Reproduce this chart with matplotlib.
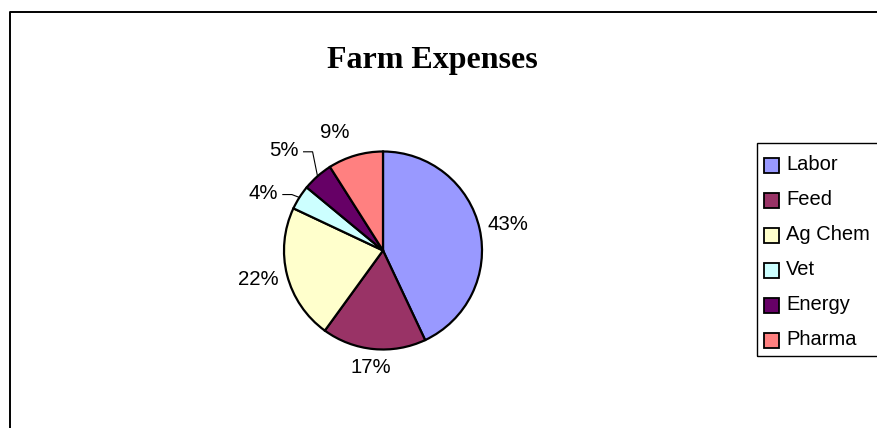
import numpy as np
import matplotlib.pyplot as plt
from matplotlib.patches import Rectangle

# Farm expense breakdown, percent of total
categories = ['Labor', 'Feed', 'Ag Chem', 'Vet', 'Energy', 'Pharma']
shares = [43, 17, 22, 4, 5, 9]
colors = ['#9999FF', '#993366', '#FFFFCC', '#CCFFFF', '#660066', '#FF8080']
labels = [f'{v}%' for v in shares]

W, H = 877, 428
fig = plt.figure(figsize=(W / 100, H / 100), dpi=100)
ax = fig.add_axes([0, 0, 1, 1])

# pie in pixel-like units (1 data unit = 1 px)
cx, cy, R = 383, H - 250.5, 99
wedges, _ = ax.pie(shares, colors=colors, startangle=90, counterclock=False,
                   center=(cx, cy), radius=R,
                   wedgeprops=dict(edgecolor='black', linewidth=1.6))
ax.set_xlim(0, W)
ax.set_ylim(0, H)
ax.set_aspect('equal')
ax.axis('off')

# outer chart border (only left and top edges show)
ax.plot([9.5, 9.5, W + 5], [-5, H - 12, H - 12], color='black', lw=1.4)

ax.text(432, H - 68, 'Farm Expenses', fontsize=23, fontweight='bold',
        family='Liberation Serif', ha='center', va='baseline')

# percentage labels; the thin slices get leader lines
fig.canvas.draw()
renderer = fig.canvas.get_renderer()
moved = {'Vet': (1.343, 6.8), 'Energy': (1.424, 3.3), 'Pharma': (1.29, 6.0)}
with_leader = ('Vet', 'Energy')
for w, lab, cat in zip(wedges, labels, categories):
    mid = np.deg2rad((w.theta1 + w.theta2) / 2)
    t = ax.text(0, 0, lab, fontsize=14.7, family='Liberation Sans',
                ha='center', va='center')
    bb = t.get_window_extent(renderer)
    if cat in moved:
        d, shift = moved[cat]
        a = mid + np.deg2rad(shift)
        x, y = cx + d * R * np.cos(a), cy + d * R * np.sin(a)
        t.set_position((x, y))
        if cat in with_leader:
            px, py = cx + R * np.cos(mid), cy + R * np.sin(mid)
            xr = x + bb.width / 2
            ax.plot([xr + 5, xr + 14, px], [y - 1.5, y - 1.5, py],
                    color='black', lw=0.8)
    else:
        gap = R + 9
        x = cx + gap * np.cos(mid) + bb.width / 2 * np.cos(mid)
        y = cy + gap * np.sin(mid) + bb.height / 2 * np.sin(mid)
        t.set_position((x, y))

# legend box, drawn by hand
lx, ltop, lbot = 757, 143, 356
ax.add_patch(Rectangle((lx, H - lbot), 200, lbot - ltop, fill=False,
                       edgecolor='black', lw=1.0))
for i, (cat, c) in enumerate(zip(categories, colors)):
    yc = H - (165.5 + 35 * i)
    ax.add_patch(Rectangle((764, yc - 7.5), 15, 15, facecolor=c,
                           edgecolor='black', lw=1.3))
    ax.text(786, H - (170 + 35 * i), cat, fontsize=14.5,
            family='Liberation Sans', va='baseline')

fig.savefig('out.png', dpi=100)
